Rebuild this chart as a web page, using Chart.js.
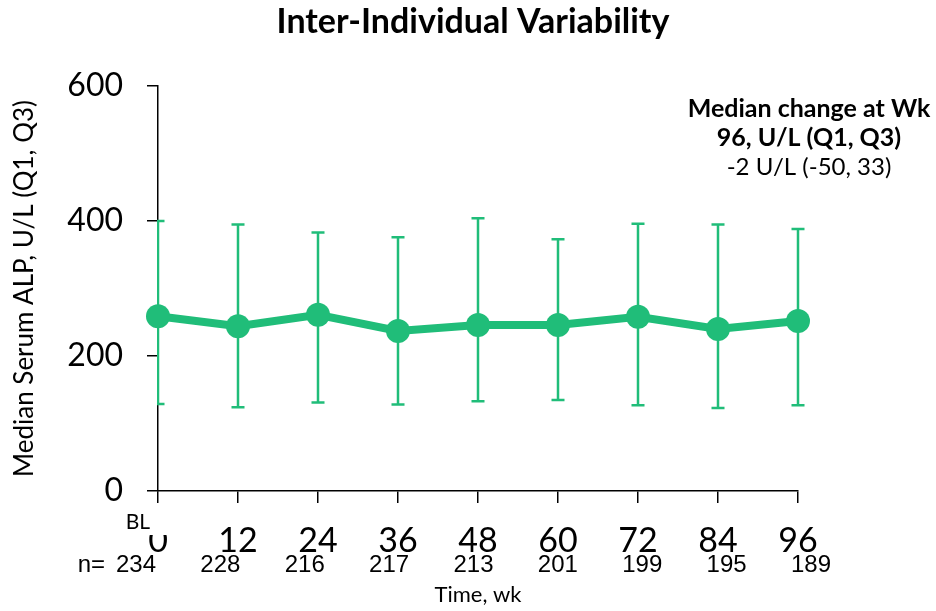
<!DOCTYPE html>
<html>
<head>
<meta charset="utf-8">
<script src="https://cdn.jsdelivr.net/npm/chart.js@4.4.1/dist/chart.umd.min.js"></script>
<style>
  html, body { margin: 0; padding: 0; background: #fff; }
  #wrap { width: 936px; height: 611px; }
</style>
</head>
<body>
<div id="wrap"><canvas id="alpChart"></canvas></div>
<script>
// visit weeks (0 = baseline) and serum ALP summary, U/L
const weeks = ['0', '12', '24', '36', '48', '60', '72', '84', '96'];
const medianAlp = [259, 244, 261, 237, 246, 246, 258, 240, 252];
const q1Alp = [129, 124, 131, 128, 133, 135, 127, 123, 127];
const q3Alp = [400, 395, 383, 376, 404, 373, 396, 395, 388];
const nCounts = [234, 228, 216, 217, 213, 201, 199, 195, 189];
const yTicks = [0, 200, 400, 600];
const chartTitle = 'Inter-Individual Variability';
const changeNote = ['Median change at Wk', '96, U/L (Q1, Q3)', '-2 U/L (-50, 33)'];

const green = '#20bd79';
const mainFont = 'Lato, "Open Sans", sans-serif';
const countFont = '"Liberation Sans", Arial, sans-serif';

const alpOverlay = {
    id: 'alpOverlay',
    beforeDatasetsDraw(chart) {
        const { ctx, chartArea, scales: { x, y } } = chart;
        ctx.save();
        // Q1-Q3 whiskers, cut off at the left axis like the original plot
        ctx.beginPath();
        ctx.rect(chartArea.left - 1, chartArea.top - 4, chartArea.width + 20, chartArea.height + 8);
        ctx.clip();
        ctx.strokeStyle = green;
        ctx.lineWidth = 2.5;
        medianAlp.forEach((_, i) => {
            const px = x.getPixelForValue(i);
            const top = y.getPixelForValue(q3Alp[i]);
            const bot = y.getPixelForValue(q1Alp[i]);
            ctx.beginPath();
            ctx.moveTo(px, top); ctx.lineTo(px, bot);
            ctx.moveTo(px - 6.5, top); ctx.lineTo(px + 6.5, top);
            ctx.moveTo(px - 6.5, bot); ctx.lineTo(px + 6.5, bot);
            ctx.stroke();
        });
        ctx.restore();
    },
    afterDraw(chart) {
        const { ctx, chartArea, scales: { x } } = chart;
        ctx.save();
        ctx.textBaseline = 'alphabetic';

        // title, centred over the plot area
        ctx.fillStyle = '#000';
        ctx.textAlign = 'center';
        ctx.font = 'bold 34px ' + mainFont;
        ctx.fillText(chartTitle, (chartArea.left + chartArea.right) / 2 - 5, 33);

        // "BL" box sitting over the baseline tick label
        const x0 = x.getPixelForValue(0);
        ctx.fillStyle = '#fff';
        ctx.fillRect(x0 - 40, chartArea.bottom + 14, 58, 30);
        ctx.fillStyle = '#000';
        ctx.font = '21px ' + mainFont;
        ctx.textAlign = 'right';
        ctx.fillText('BL', x0 - 8, chartArea.bottom + 38);

        // subject counts row
        const rowY = chartArea.bottom + 81;
        ctx.font = '24px ' + countFont;
        const start = x0 - 22;
        const end = x.getPixelForValue(nCounts.length - 1) + 13;
        ctx.textAlign = 'right';
        ctx.fillText('n=', start - 31, rowY);
        ctx.textAlign = 'center';
        nCounts.forEach((n, i) => {
            ctx.fillText(String(n), start + (end - start) * i / (nCounts.length - 1), rowY);
        });

        // week 96 change note
        const cx = chart.width - 127;
        ctx.font = 'bold 25px ' + mainFont;
        ctx.fillText(changeNote[0], cx, 117);
        ctx.fillText(changeNote[1], cx, 146);
        ctx.font = '24px ' + mainFont;
        ctx.fillText(changeNote[2], cx, 175);
        ctx.restore();
    }
};

new Chart(document.getElementById('alpChart'), {
    type: 'line',
    data: {
        labels: weeks,
        datasets: [{
            data: medianAlp,
            borderColor: green,
            backgroundColor: green,
            borderWidth: 8,
            pointRadius: 12,
            pointHoverRadius: 12,
            pointBorderWidth: 0,
            pointBackgroundColor: green,
            tension: 0,
            fill: false,
            clip: false
        }]
    },
    options: {
        responsive: true,
        maintainAspectRatio: false,
        devicePixelRatio: 1,
        animation: false,
        layout: { padding: { left: 0, right: 138, top: 86, bottom: 0 } },
        plugins: {
            legend: { display: false },
            tooltip: { enabled: false },
            title: { display: false }
        },
        scales: {
            x: {
                type: 'category',
                offset: false,
                grid: { display: true, drawOnChartArea: false, drawTicks: true, tickLength: 12, color: '#000', lineWidth: 1.5 },
                border: { display: true, color: '#000', width: 1.5 },
                ticks: { color: '#000', font: { family: mainFont, size: 34 }, padding: 18, maxRotation: 0, autoSkip: false },
                title: {
                    display: true,
                    text: 'Time, wk',
                    color: '#000',
                    font: { family: mainFont, size: 22 },
                    padding: { top: 0, bottom: 3 }
                },
                afterFit: scale => { scale.height = 120; }
            },
            y: {
                min: 0,
                max: 600,
                afterBuildTicks: scale => { scale.ticks = yTicks.map(v => ({ value: v })); },
                grid: { display: true, drawOnChartArea: false, drawTicks: true, tickLength: 11, color: '#000', lineWidth: 1.5 },
                border: { display: true, color: '#000', width: 1.5 },
                ticks: { color: '#000', font: { family: mainFont, size: 32 }, padding: 24 },
                title: {
                    display: true,
                    text: 'Median Serum ALP, U/L (Q1, Q3)',
                    color: '#000',
                    font: { family: mainFont, size: 26 },
                    padding: { top: 9, bottom: 0 }
                },
                afterFit: scale => { scale.width = 158; }
            }
        }
    },
    plugins: [alpOverlay]
});
</script>
</body>
</html>
